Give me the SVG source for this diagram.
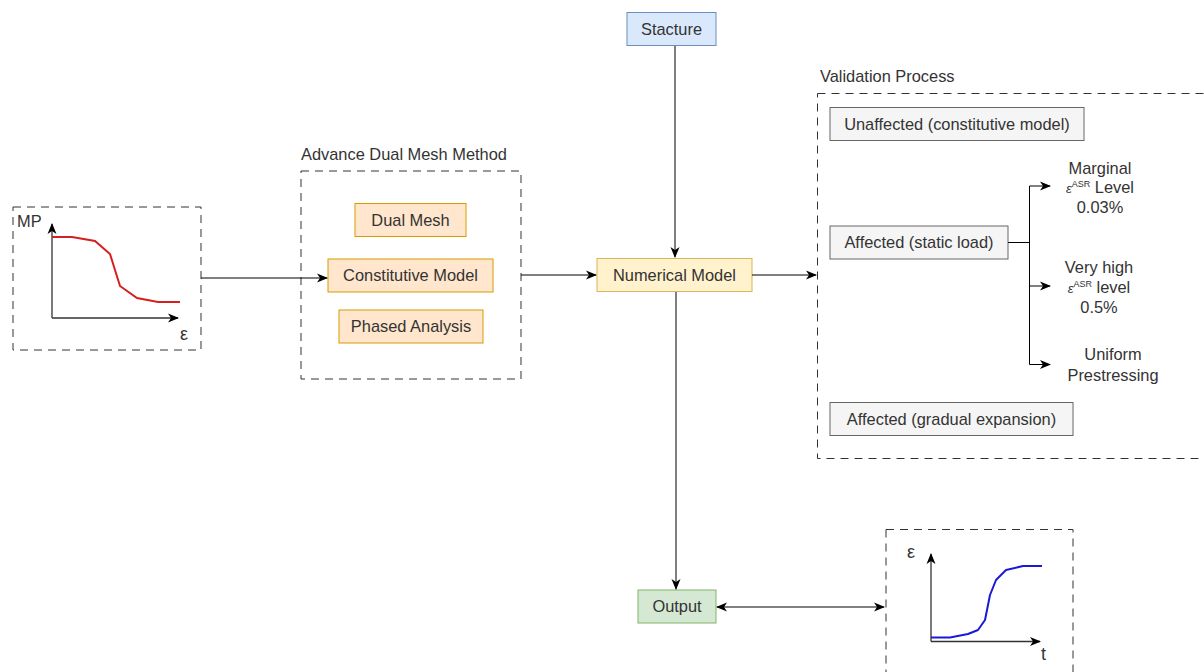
<svg xmlns="http://www.w3.org/2000/svg" width="1204" height="672" viewBox="0 0 1204 672">
<style>
text{font-family:"Liberation Sans",Arial,sans-serif;font-size:16.4px;fill:#333333}
.c{text-anchor:middle}
.cont{fill:none;stroke:#333333;stroke-width:1;stroke-dasharray:8 6}
.orange{fill:#ffe6cc;stroke:#d79b00}
.gray{fill:#f5f5f5;stroke:#666666}
.edge{fill:none;stroke:#000000;stroke-width:1}
.axis{fill:none;stroke:#333333;stroke-width:1.3}
.sup{font-size:9px}
.eps{font-size:18px}
</style>
<defs>
<marker id="arr" markerWidth="12" markerHeight="10" refX="10" refY="5" orient="auto" markerUnits="userSpaceOnUse">
<path d="M0,0.5 L11,5 L0,9.5 L3,5 Z" fill="#000"/>
</marker>
<marker id="arrs" markerWidth="12" markerHeight="10" refX="1" refY="5" orient="auto" markerUnits="userSpaceOnUse">
<path d="M11,0.5 L0,5 L11,9.5 L8,5 Z" fill="#000"/>
</marker>
</defs>

<g id="mp-graph">
<rect class="cont" x="13" y="207" width="188" height="143"/>
<text x="17" y="227">MP</text>
<path class="axis" d="M52,318 V224" marker-end="url(#arr)"/>
<path class="axis" d="M52,318 H178" marker-end="url(#arr)"/>
<polyline points="52,237 72,237 95,241 110,254 120,286 137,298 158,302 180,302" fill="none" stroke="#d61f1f" stroke-width="2"/>
<text class="eps" x="180" y="340">ε</text>
</g>

<g id="admm">
<text x="301" y="160">Advance Dual Mesh Method</text>
<rect class="cont" x="301" y="171" width="220" height="208"/>
</g>
<g id="dual-mesh">
<rect class="orange" x="355" y="203.5" width="111" height="33"/>
<text class="c" x="410.5" y="225.5">Dual Mesh</text>
</g>
<g id="constitutive-model">
<rect class="orange" x="328" y="259" width="165" height="33"/>
<text class="c" x="410.5" y="281">Constitutive Model</text>
</g>
<g id="phased-analysis">
<rect class="orange" x="339" y="310" width="144" height="33"/>
<text class="c" x="411" y="332">Phased Analysis</text>
</g>

<g id="stacture">
<rect x="627" y="12.5" width="89" height="33" fill="#dae8fc" stroke="#6c8ebf"/>
<text class="c" x="671.5" y="34.5">Stacture</text>
</g>

<g id="numerical-model">
<rect x="597" y="258.5" width="155" height="33" fill="#fff2cc" stroke="#d6b656"/>
<text class="c" x="674.5" y="280.5">Numerical Model</text>
</g>

<g id="output">
<rect x="638" y="590" width="78" height="33" fill="#d5e8d4" stroke="#82b366"/>
<text class="c" x="677" y="612">Output</text>
</g>

<g id="strain-graph">
<rect class="cont" x="886" y="529.5" width="187" height="160"/>
<text class="eps" x="907" y="558">ε</text>
<path class="axis" d="M931,641.5 V554" marker-end="url(#arr)"/>
<path class="axis" d="M931,641.5 H1040" marker-end="url(#arr)"/>
<polyline points="931,637.5 950,637.5 968,634 978,630 985,620 990,595 996,580 1006,570 1023,566 1042,566" fill="none" stroke="#1a1ad6" stroke-width="2" stroke-linejoin="round"/>
<text class="eps" x="1041" y="660">t</text>
</g>

<g id="validation">
<text x="820" y="82">Validation Process</text>
<rect class="cont" x="817.5" y="93.5" width="400" height="365"/>
</g>
<g id="unaffected">
<rect class="gray" x="830" y="107.5" width="254" height="33"/>
<text class="c" x="957" y="129.5">Unaffected (constitutive model)</text>
</g>
<g id="affected-static">
<rect class="gray" x="830" y="226" width="178" height="33"/>
<text class="c" x="919" y="248">Affected (static load)</text>
</g>
<g id="affected-gradual">
<rect class="gray" x="830" y="402.5" width="243" height="33"/>
<text class="c" x="951.5" y="424.5">Affected (gradual expansion)</text>
</g>
<g id="marginal">
<text class="c" x="1100" y="174">Marginal</text>
<text class="c" x="1100" y="193"><tspan font-style="italic" font-size="13">ε</tspan><tspan class="sup" dy="-6">ASR</tspan><tspan dy="6"> Level</tspan></text>
<text class="c" x="1100" y="213">0.03%</text>
</g>
<g id="very-high">
<text class="c" x="1099" y="273">Very high</text>
<text class="c" x="1099" y="293"><tspan font-style="italic" font-size="13">ε</tspan><tspan class="sup" dy="-6">ASR</tspan><tspan dy="6"> level</tspan></text>
<text class="c" x="1099" y="313">0.5%</text>
</g>
<g id="uniform">
<text class="c" x="1113" y="360">Uniform</text>
<text class="c" x="1113" y="381">Prestressing</text>
</g>

<g id="connectors">
<path class="edge" d="M201,278 H327" marker-end="url(#arr)"/>
<path class="edge" d="M521,275 H596" marker-end="url(#arr)"/>
<path class="edge" d="M675,46 V257" marker-end="url(#arr)"/>
<path class="edge" d="M752,275 H816" marker-end="url(#arr)"/>
<path class="edge" d="M676,292 V589" marker-end="url(#arr)"/>
<path class="edge" d="M717,607 H884" marker-start="url(#arrs)" marker-end="url(#arr)"/>
<path class="edge" d="M1008,242.5 H1029.5 M1029.5,186 V364.5"/>
<path class="edge" d="M1029.5,186 H1050" marker-end="url(#arr)"/>
<path class="edge" d="M1029.5,286 H1050" marker-end="url(#arr)"/>
<path class="edge" d="M1029.5,364.5 H1050" marker-end="url(#arr)"/>
</g>
</svg>
